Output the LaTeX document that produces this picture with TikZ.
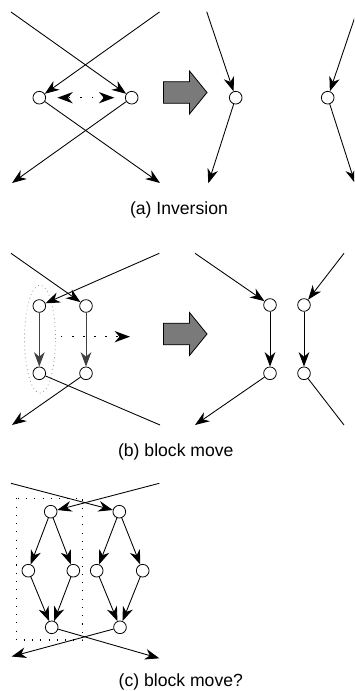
\documentclass[tikz,border=0pt]{standalone}
\usepackage{fontspec}
\setmainfont{Liberation Sans}
\usetikzlibrary{arrows.meta}
\begin{document}
\begin{tikzpicture}[x=0.75pt,y=-0.75pt,
  vtx/.style={circle,draw,fill=white,line width=0.6pt,minimum size=9.5pt,inner sep=0pt},
  tipshape/.tip={Stealth[length=10.8pt,width=8pt,inset=3.4pt]},
  bigtip/.tip={Stealth[length=11.5pt,width=8.4pt,inset=3.6pt]},
  conn/.style={line width=0.65pt,-tipshape},
  plain/.style={line width=0.65pt},
  greyconn/.style={conn,draw=black!75,fill=black!75},
  dotmove/.style={line width=1.1pt,dash pattern=on 1.1pt off 7.2pt,-bigtip},
  blockarrow/.style={draw,fill=black!52,line width=0.6pt,line join=miter},
  caption/.style={font=\fontsize{13.2}{16}\selectfont,inner sep=0pt}]
\useasboundingbox (0,0) rectangle (354,691);
\clip (0,0) rectangle (354,691);

% ---------- (a) inversion ----------
\node[vtx] (aL) at (39.3,97.7) {};
\node[vtx] (aR) at (131.7,97.7) {};
\coordinate (aInL) at (11,12);
\coordinate (aInR) at (159.5,12);
\coordinate (aOutL) at (12,183);
\coordinate (aOutR) at (160,183);
\draw[conn] (aInL) -- (aR);
\draw[conn] (aInR) -- (aL);
\draw[conn] (aL) -- (aOutR);
\draw[conn] (aR) -- (aOutL);
\draw[line width=1.1pt,dash pattern=on 1.1pt off 7.6pt,dash phase=-1pt,
      bigtip-bigtip,shorten <=8.5pt,shorten >=8pt] (aL.east) -- (aR.west);

\draw[blockarrow] (163.5,81.7) -- (189.5,81.7) -- (189.5,71) -- (207,92.5)
  -- (189.5,114) -- (189.5,103.3) -- (163.5,103.3) -- cycle;

\node[vtx] (arA) at (235.7,97.7) {};
\node[vtx] (arB) at (327.7,97.7) {};
\coordinate (arAin) at (206.7,11.7);
\coordinate (arAout) at (208.3,183.3);
\coordinate (arBin) at (356.7,11.7);
\coordinate (arBout) at (355.1,183.3);
\draw[conn] (arAin) -- (arA);
\draw[conn] (arA) -- (arAout);
\draw[conn] (arBin) -- (arB);
\draw[conn] (arB) -- (arBout);

\node[caption] (capA) at (179,210) {(a) Inversion};

% ---------- (b) block move ----------
\draw[gray!80,line width=0.6pt,dash pattern=on 0.6pt off 2.4pt]
  (40,339) ellipse [x radius=11.6pt, y radius=40.5pt];

\node[vtx] (bTL) at (39.3,306) {};
\node[vtx] (bTR) at (86,306) {};
\node[vtx] (bBL) at (39.3,373.3) {};
\node[vtx] (bBR) at (86,373.3) {};
\coordinate (bInL) at (11,253.3);
\coordinate (bInR) at (159.3,253.3);
\coordinate (bOutL) at (12,425);
\coordinate (bOutR) at (160,425);
\draw[conn] (bInL) -- (bTR);
\draw[conn] (bInR) -- (bTL);
\draw[greyconn] (bTL) -- (bBL);
\draw[greyconn] (bTR) -- (bBR);
\draw[plain] (bBL) -- (bOutR);
\draw[conn] (bBR) -- (bOutL);
\coordinate (mvS) at (61,336.7);
\coordinate (mvE) at (130,336.7);
\draw[dotmove] (mvS) -- (mvE);

\draw[blockarrow] (163.5,323.2) -- (189.5,323.2) -- (189.5,312.5) -- (207,334)
  -- (189.5,355.5) -- (189.5,344.8) -- (163.5,344.8) -- cycle;

\node[vtx] (brA) at (270,305) {};
\node[vtx] (brB) at (304,305) {};
\node[vtx] (brC) at (270,373.3) {};
\node[vtx] (brD) at (304,373.3) {};
\coordinate (brInL) at (195,253.3);
\coordinate (brInR) at (344,253.3);
\coordinate (brOutL) at (195,425);
\coordinate (brOutR) at (344,425);
\draw[conn] (brInL) -- (brA);
\draw[conn] (brInR) -- (brB);
\draw[conn] (brA) -- (brC);
\draw[conn] (brB) -- (brD);
\draw[conn] (brC) -- (brOutL);
\draw[plain] (brD) -- (brOutR);

\node[caption] (capB) at (175.8,451.7) {(b) block move};

% ---------- (c) block move? ----------
\draw[line width=0.8pt,dash pattern=on 0.8pt off 5.4pt] (16.7,498.3) rectangle (82.7,640);

\node[vtx] (clT) at (50.7,511.7) {};
\node[vtx] (clL) at (28.3,570.7) {};
\node[vtx] (clR) at (73.3,570.7) {};
\node[vtx] (clB) at (51.7,627.3) {};
\node[vtx] (crT) at (119.3,511.7) {};
\node[vtx] (crL) at (96.7,570.7) {};
\node[vtx] (crR) at (142.7,570.7) {};
\node[vtx] (crB) at (120,627.3) {};
\coordinate (cInL) at (11,483.3);
\coordinate (cInR) at (159.3,483.3);
\coordinate (cOutL) at (11.7,656.5);
\coordinate (cOutR) at (159.3,658.3);
\draw[conn] (cInL) -- (crT);
\draw[conn] (cInR) -- (clT);
\draw[conn] (clT) -- (clL);
\draw[conn] (clT) -- (clR);
\draw[conn] (clL) -- (clB);
\draw[conn] (clR) -- (clB);
\draw[conn] (crT) -- (crL);
\draw[conn] (crT) -- (crR);
\draw[conn] (crL) -- (crB);
\draw[conn] (crR) -- (crB);
\draw[conn] (clB) -- (cOutR);
\draw[conn] (crB) -- (cOutL);

\node[caption] (capC) at (180.8,681.7) {(c) block move?};
\end{tikzpicture}
\end{document}
